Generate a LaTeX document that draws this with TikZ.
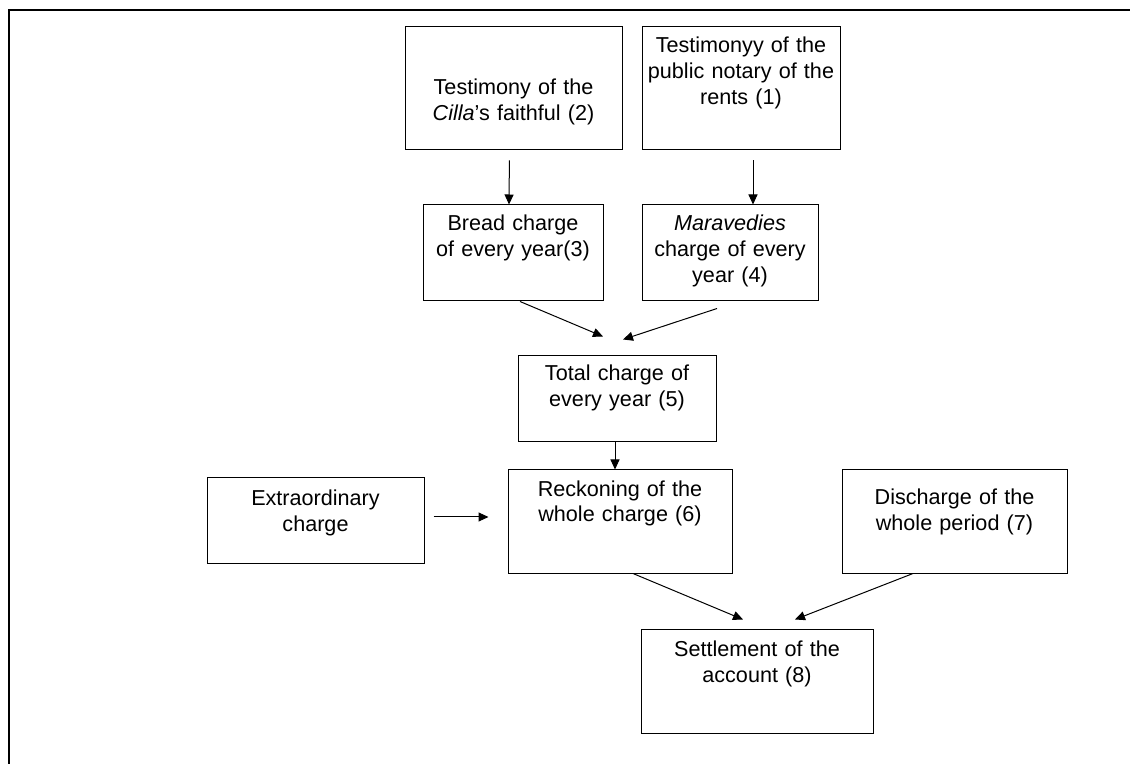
\documentclass[tikz,border=0pt]{standalone}
\usepackage{fontspec}
\setmainfont{Liberation Sans}
\usetikzlibrary{
  arrows.meta,
  positioning
}

\begin{document}
\begin{tikzpicture}[
      x=0.5pt, y=-0.5pt,
      stage/.style={
         rectangle,
         draw=black,
         line width=0.5pt,
         inner sep=0pt,
         align=center,
         font=\fontsize{10.8}{13}\selectfont
      },
      tip/.style={-{Triangle[length=5pt,width=4.5pt]},line width=0.5pt},
      frame/.style={line width=1.2pt}
    ]
    \useasboundingbox (0,0) rectangle (1130,764);
    \draw[frame] (9,764) -- (9,10) -- (1130,10);

    % top row
    \node (cilla) [stage, text width=108.5pt, text height=34pt, text depth=27.5pt] at (513.5,88.5) {Testimony of the\\\textit{Cilla}'s faithful (2)};
    \node (notary) [stage, text width=99pt, text height=13pt, text depth=48.5pt] at (741,88.5) {Testimonyy of the\\public notary of the\\rents (1)};
    \node (bread) [stage, text width=90pt, text height=13pt, text depth=35pt] at (513,253) {Bread charge\\of every year(3)};
    \node (mara) [stage, text width=88pt, text height=13pt, text depth=35pt] at (730,253) {\textit{Maravedies}\\charge of every\\year (4)};
    \node (total) [stage, text width=99pt, text height=12.5pt, text depth=30.5pt] at (617,399) {Total charge of\\every year (5)};
    % reckoning row
    \node (extra) [stage, text width=108.5pt, text height=14pt, text depth=28.5pt] at (315.5,520.5) {Extraordinary\\charge};
    \node (reck) [stage, text width=112pt, text height=13pt, text depth=38.5pt] at (620,521.5) {Reckoning of the\\whole charge (6)};
    \node (disch) [stage, text width=112.5pt, text height=17.5pt, text depth=34pt] at (954.5,521.5) {Discharge of the\\whole period (7)};
    \node (settle) [stage, text width=116pt, text height=13.5pt, text depth=38.5pt] at (757,681) {Settlement of the\\account (8)};

    \draw[tip, shorten <=5pt] ([xshift=-2pt]cilla.south) -- ([xshift=-2pt]bread.north);
    \draw[tip, shorten <=5pt] ([xshift=6pt]notary.south) -- ([xshift=6pt]notary.south |- mara.north);
    \draw[tip] ([xshift=3.5pt]bread.south) -- ([shift={(-7pt,9.5pt)}]total.north);
    \draw[tip] ([shift={(-6.5pt,-3.5pt)}]mara.south) -- ([shift={(3pt,8pt)}]total.north);
    \draw[tip] ([xshift=-1pt]total.south) -- ([xshift=-1pt]total.south |- reck.north);
    \draw[tip, shorten <=4.5pt, shorten >=9.5pt] ([yshift=1.75pt]extra.east) -- ([yshift=1.75pt]extra.east -| reck.west);
    \draw[tip] ([xshift=6.5pt]reck.south) -- ([shift={(-7pt,4.5pt)}]settle.north);
    \draw[tip] ([xshift=-20.75pt]disch.south) -- ([shift={(19pt,4.5pt)}]settle.north);
\end{tikzpicture}
\end{document}
